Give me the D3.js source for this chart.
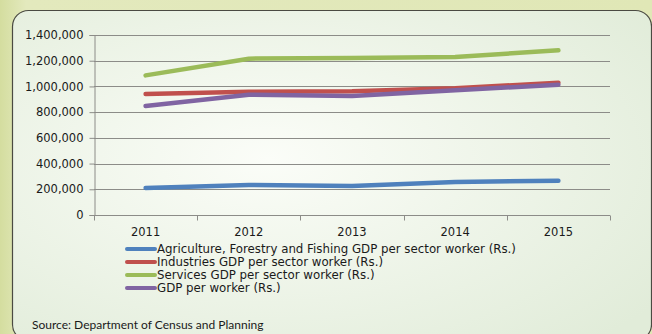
<!DOCTYPE html>
<html lang="en">
<head>
<meta charset="UTF-8">
<title>GDP per sector worker</title>
<script src="https://d3js.org/d3.v7.min.js"></script>
<style>
  html, body { margin: 0; padding: 0; background: #e3e9bf; }
  svg { display: block; }
</style>
</head>
<body>
<svg id="chart" width="652" height="334"></svg>
<script>
// chart data
const years = ["2011", "2012", "2013", "2014", "2015"];
const agriculture = [210000, 233000, 225000, 257000, 267000];
const industries = [941000, 959000, 962000, 985000, 1029000];
const services = [1086000, 1216000, 1222000, 1229000, 1281000];
const gdpPerWorker = [848000, 936000, 925000, 970000, 1013000];
const yTicks = [0, 200000, 400000, 600000, 800000, 1000000, 1200000, 1400000];

const seriesNames = [
  "Agriculture, Forestry and Fishing GDP per sector worker (Rs.)",
  "Industries GDP per sector worker (Rs.)",
  "Services GDP per sector worker (Rs.)",
  "GDP per worker (Rs.)"
];
const seriesColors = ["#4f81bd", "#c0504d", "#9bbb59", "#8064a2"];
const seriesValues = [agriculture, industries, services, gdpPerWorker];

const svg = d3.select("#chart");
const W = 652, H = 334;

// backgrounds
const defs = svg.append("defs");
const outerGrad = defs.append("linearGradient").attr("id", "outer")
  .attr("x1", 0).attr("y1", 0).attr("x2", 1).attr("y2", 0);
outerGrad.append("stop").attr("offset", "0%").attr("stop-color", "#d4dd9f");
outerGrad.append("stop").attr("offset", "4%").attr("stop-color", "#e3e9bd");
outerGrad.append("stop").attr("offset", "100%").attr("stop-color", "#e0e7b6");

const panelGrad = defs.append("radialGradient").attr("id", "panel")
  .attr("cx", "40%").attr("cy", "45%").attr("r", "75%");
panelGrad.append("stop").attr("offset", "0%").attr("stop-color", "#fbfdf8");
panelGrad.append("stop").attr("offset", "100%").attr("stop-color", "#e1ecd9");

svg.append("rect").attr("width", W).attr("height", H).attr("fill", "url(#outer)");

svg.append("rect")
  .attr("x", 12.5).attr("y", 10.5)
  .attr("width", 639).attr("height", 330)
  .attr("rx", 16)
  .attr("fill", "url(#panel)")
  .attr("stroke", "#4a4a42")
  .attr("stroke-width", 1.2);

// scales
const margin = { left: 94, right: 610, top: 35, bottom: 215 };
const x = d3.scaleBand().domain(years).range([margin.left, margin.right]);
const y = d3.scaleLinear().domain([0, 1400000]).range([margin.bottom, margin.top]);

// gridlines
svg.append("g")
  .selectAll("line")
  .data(yTicks.filter(d => d > 0))
  .enter().append("line")
  .attr("x1", margin.left).attr("x2", margin.right)
  .attr("y1", d => Math.round(y(d)) + 0.5)
  .attr("y2", d => Math.round(y(d)) + 0.5)
  .attr("stroke", "#8c8c88")
  .attr("stroke-width", 1);

// y axis
const yAxis = svg.append("g")
  .attr("transform", `translate(${margin.left + 0.5},0)`)
  .call(d3.axisLeft(y).tickValues(yTicks).tickSize(5).tickPadding(6)
    .tickFormat(d3.format(",")));
yAxis.selectAll("path, line").attr("stroke", "#8c8c88");
yAxis.selectAll("text")
  .attr("fill", "#1a1a1a")
  .style("font-family", "'DejaVu Sans', Verdana, sans-serif")
  .style("font-size", "11.5px");

// x axis with ticks between categories
const xAxis = svg.append("g")
  .attr("transform", `translate(0,${margin.bottom + 0.5})`);
xAxis.append("line")
  .attr("x1", margin.left).attr("x2", margin.right)
  .attr("stroke", "#8c8c88");
const bounds = years.map(d => x(d)).concat([margin.right]);
xAxis.selectAll(".tick")
  .data(bounds)
  .enter().append("line")
  .attr("x1", d => Math.round(d) + 0.5).attr("x2", d => Math.round(d) + 0.5)
  .attr("y1", 0).attr("y2", 5)
  .attr("stroke", "#8c8c88");
xAxis.selectAll(".label")
  .data(years)
  .enter().append("text")
  .attr("x", d => x(d) + x.bandwidth() / 2)
  .attr("y", 20)
  .attr("text-anchor", "middle")
  .attr("fill", "#1a1a1a")
  .style("font-family", "'DejaVu Sans', Verdana, sans-serif")
  .style("font-size", "11.5px")
  .text(d => d);

// lines
const line = d3.line()
  .x((d, i) => x(years[i]) + x.bandwidth() / 2)
  .y(d => y(d));

svg.append("g")
  .selectAll("path")
  .data(seriesValues)
  .enter().append("path")
  .attr("d", d => line(d))
  .attr("fill", "none")
  .attr("stroke", (d, i) => seriesColors[i])
  .attr("stroke-width", 4.5)
  .attr("stroke-linecap", "round")
  .attr("stroke-linejoin", "round");

// legend
const legend = svg.append("g").attr("transform", "translate(125,249)");
const item = legend.selectAll("g")
  .data(seriesNames)
  .enter().append("g")
  .attr("transform", (d, i) => `translate(0,${i * 13})`);
item.append("line")
  .attr("x1", 2).attr("x2", 30)
  .attr("stroke", (d, i) => seriesColors[i])
  .attr("stroke-width", 4)
  .attr("stroke-linecap", "round");
item.append("text")
  .attr("x", 32)
  .attr("dy", "0.35em")
  .attr("fill", "#1a1a1a")
  .style("font-family", "'DejaVu Sans', Verdana, sans-serif")
  .style("font-size", "11.8px")
  .text(d => d);

// source note
svg.append("text")
  .attr("x", 32).attr("y", 329)
  .attr("fill", "#1a1a1a")
  .style("font-family", "Lato, 'Open Sans', sans-serif")
  .style("font-size", "12px")
  .text("Source: Department of Census and Planning");
</script>
</body>
</html>
